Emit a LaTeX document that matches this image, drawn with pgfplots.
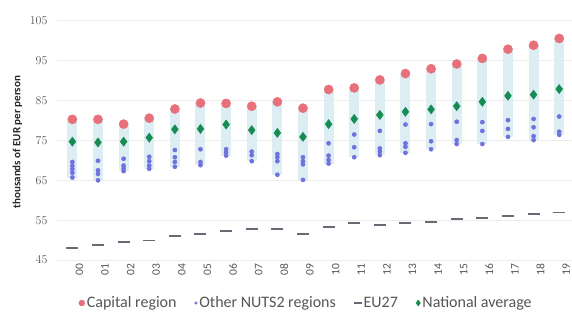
\documentclass[border=0pt]{standalone}
\usepackage{fontspec}
\setmainfont{Carlito}
\usepackage{pgfplots}
\usepackage{pgfplotstable}
\pgfplotsset{compat=1.18}
\definecolor{capc}{RGB}{232,112,122}
\definecolor{othc}{RGB}{112,112,222}
\definecolor{euc}{RGB}{105,105,118}
\definecolor{natc}{RGB}{22,140,82}
\definecolor{rangec}{RGB}{220,237,244}
\definecolor{tickc}{RGB}{85,85,85}

\pgfplotstableread{
x cap lo nat eu
0 80.3 65.7 74.7 48.1
1 80.3 65.0 74.5 48.8
2 79.1 67.3 74.7 49.6
3 80.6 67.9 75.7 49.9
4 82.9 68.4 77.8 51.1
5 84.4 68.8 77.9 51.5
6 84.3 71.2 79.0 52.2
7 83.6 69.8 77.6 52.8
8 84.7 66.4 76.9 52.8
9 83.1 65.1 75.9 51.5
10 87.8 69.2 79.1 53.2
11 88.2 70.8 80.4 54.2
12 90.2 71.3 81.4 53.7
13 91.8 71.9 82.2 54.2
14 93.0 72.8 82.8 54.6
15 94.2 74.1 83.6 55.2
16 95.6 74.1 84.7 55.6
17 97.9 75.9 86.2 56.1
18 98.9 75.1 86.5 56.6
19 100.6 76.4 87.9 56.9
}\maintab

\pgfplotstableread{
x y
0 69.6
0 68.6
0 67.8
0 66.9
0 65.7
1 69.9
1 67.5
1 66.6
1 65.0
2 70.4
2 68.7
2 68.0
2 67.3
3 70.9
3 69.8
3 68.7
3 67.9
4 72.6
4 70.8
4 69.6
4 68.4
5 72.8
5 69.6
5 68.8
6 72.8
6 72.0
6 71.2
7 72.2
7 71.3
7 69.8
8 71.6
8 70.8
8 69.8
8 66.4
9 70.8
9 69.8
9 69.0
9 65.1
10 74.3
10 71.2
10 70.1
10 69.2
11 76.5
11 73.3
11 70.8
12 77.4
12 73.0
12 72.2
12 71.3
13 79.0
13 74.3
13 73.4
13 71.9
14 79.1
14 74.8
14 72.8
15 79.7
15 75.1
15 74.1
16 79.6
16 77.4
16 74.1
17 80.1
17 77.9
17 75.9
18 80.4
18 78.3
18 76.1
18 75.1
19 81.0
19 77.2
19 76.4
}\othtab

\begin{document}
\begin{tikzpicture}
\path[use as bounding box] (-57pt,-51pt) rectangle (515pt,260pt);
\begin{axis}[
  at={(0pt,0pt)}, anchor=south west,
  scale only axis, width=515pt, height=259pt,
  xmin=-0.6, xmax=19.5, ymin=45, ymax=110,
  axis line style={draw=none},
  major tick length=0pt,
  ytick={45,55,...,105},
  ymajorgrids, grid style={color=gray!15, line width=0.9pt},
  xtick={0,...,19},
  xticklabels={00,01,02,03,04,05,06,07,08,09,10,11,12,13,14,15,16,17,18,19},
  xticklabel style={rotate=90, anchor=east, font=\fontsize{11.5}{12}\selectfont, text=tickc, yshift=-7pt},
  yticklabel style={anchor=east, font=\fontsize{12.5}{13}\selectfont, text=tickc, xshift=-6pt},
  ylabel={thousands of EUR per person},
  ylabel style={at={(axis description cs:-0.077,0.455)}, anchor=center, font=\bfseries\fontsize{11}{12}\selectfont, text=black!85},
  legend style={at={(axis description cs:0.484,0)}, anchor=center, yshift=-43pt, draw=none, fill=none,
    font=\fontsize{16}{17}\selectfont, text=tickc, legend columns=4,
    /tikz/every even column/.append style={column sep=16pt}},
  legend cell align=left,
  legend image post style={scale=0.65},
]
\addplot[forget plot, only marks, mark=none,
  error bars/.cd, y dir=minus, y explicit, error mark=none,
  error bar style={draw=rangec, line width=10pt}]
  table[x=x, y=cap, y error minus expr=\thisrow{cap}-\thisrow{lo}] {\maintab};
\addplot[only marks, mark=*, mark size=4.6pt, color=capc, mark options={draw=capc, fill=capc}]
  table[x=x, y=cap] {\maintab};
\addlegendentry{Capital region}
\addplot[only marks, mark=*, mark size=2.1pt, color=othc, mark options={draw=othc, fill=othc}]
  table[x=x, y=y] {\othtab};
\addlegendentry{Other NUTS2 regions}
\addplot[only marks, mark=-, mark size=6pt, color=euc, mark options={line width=1.8pt}]
  table[x=x, y=eu] {\maintab};
\addlegendentry{EU27}
\addplot[only marks, mark=diamond*, mark size=4.6pt, color=natc, mark options={draw=natc, fill=natc}]
  table[x=x, y=nat] {\maintab};
\addlegendentry{National average}
\end{axis}
\end{tikzpicture}
\end{document}
